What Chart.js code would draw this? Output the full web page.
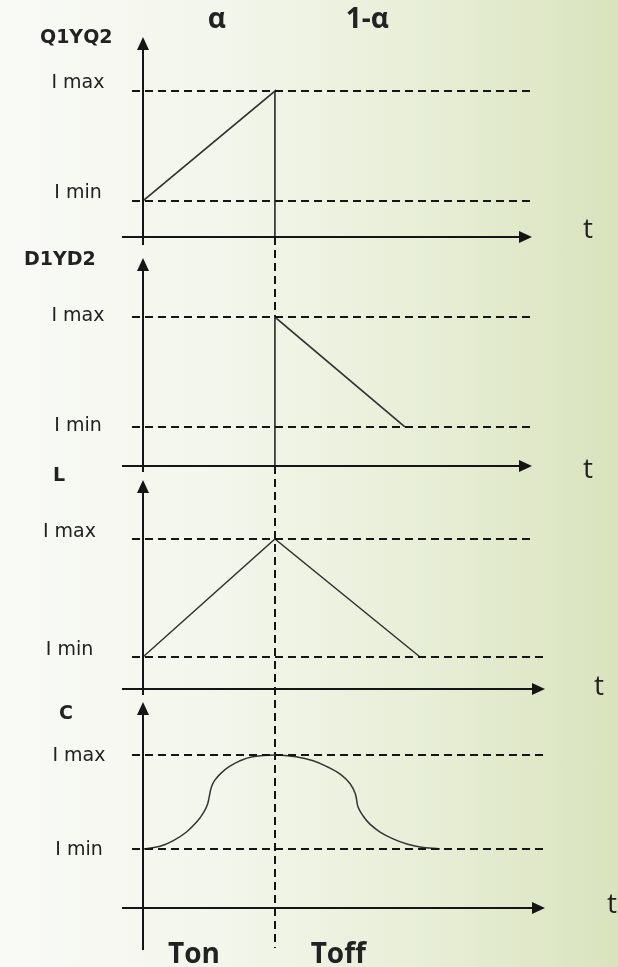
<!DOCTYPE html>
<html>
<head>
<meta charset="utf-8">
<title>Corrientes en el convertidor</title>
<script src="https://cdn.jsdelivr.net/npm/chart.js@4.4.1/dist/chart.umd.min.js"></script>
<style>
  html, body { margin: 0; padding: 0; }
  body {
    width: 618px; height: 967px; overflow: hidden;
    background: linear-gradient(to right, #f9faf6 0%, #f3f6ec 35%, #e7eed6 70%, #d9e3bd 100%);
  }
  canvas { display: block; }
</style>
</head>
<body>
<canvas id="chart" width="618" height="967"></canvas>
<script>
// Panels, top to bottom
const panelNames = ['Q1YQ2', 'D1YD2', 'L', 'C'];

// Current levels of each panel, as a share of Imax
const iMax = [1, 1, 1, 1];
const iMin = [0.247, 0.262, 0.213, 0.386];

// Time is measured in units of Ton (the switch opens at t = 1)
const TON = 1;

// Switch Q1 / Q2 current
const qTime = [0, 1, 1];
const qCurrent = [0.247, 1, 0];

// Diode D1 / D2 current
const dTime = [1, 1, 1.985];
const dCurrent = [0, 1, 0.262];

// Inductor current
const lTime = [0, 1, 2.1];
const lCurrent = [0.213, 1, 0.213];

// Capacitor current
const cTime = [0, 0.13, 0.23, 0.33, 0.41, 0.46, 0.49, 0.505, 0.52, 0.545, 0.59, 0.65, 0.73, 0.83, 1,
               1.16, 1.29, 1.40, 1.50, 1.57, 1.61, 1.63, 1.67, 1.72, 1.80, 1.90, 2.00, 2.10, 2.25];
const cCurrent = [0.386, 0.403, 0.440, 0.497, 0.565, 0.625, 0.680, 0.740, 0.795, 0.836, 0.880, 0.922, 0.960, 0.989, 1,
                  0.989, 0.963, 0.922, 0.872, 0.812, 0.745, 0.660, 0.600, 0.548, 0.495, 0.450, 0.418, 0.398, 0.386];

// Labels placed along the time axis
const phaseLabels = ['α', '1-α'];
const phaseAt = [0.56, 1.70];
const intervalLabels = ['Ton', 'Toff'];
const intervalAt = [0.386, 1.48];

// Geometry of the figure (scale ranges and decorations)
const geo = {
  xMin: -0.174, xMax: 3.6,
  panelHeight: [250, 224, 224, 269],
  yMin: [-0.089, -0.054, -0.06, -0.386],
  yMax: [1.623, 1.450, 1.433, 1.373],
  arrowTop: [1.370, 1.396, 1.393, 1.346],
  axisBottom: [-0.055, -0.04, -0.04, -0.275],
  guideBottom: -0.261,
  tStart: -0.159,
  tEnd: [2.947, 2.947, 3.045, 3.045],
  levelStart: -0.083,
  levelEndMax: [2.947, 2.947, 2.947, 3.06],
  levelEndMin: [2.947, 2.947, 3.06, 3.06],
  labelPad: [15.5, 15.5, 24, 14.5],
  labelShift: [-8, -1, -7, 1.5],
  nameX: [40, 24, 53, 59],
  nameDy: [1, 2, -4, 12],
  tDx: [56, 56, 54, 67],
  tDy: [-7, 4, -2, -3]
};

const INK = '#151515';
const TEXT = '#222222';

function pts(xs, ys) { return xs.map((x, i) => ({ x: x, y: ys[i] })); }

const scales = {
  x: { type: 'linear', min: geo.xMin, max: geo.xMax, display: false }
};
panelNames.forEach((name, k) => {
  scales['y' + k] = {
    type: 'linear',
    position: 'left',
    stack: 'panels',
    stackWeight: geo.panelHeight[k],
    weight: panelNames.length - k,
    min: geo.yMin[k],
    max: geo.yMax[k],
    afterFit: s => { s.width = 120; s.paddingTop = 0; s.paddingBottom = 0; },
    afterBuildTicks: s => { s.ticks = [{ value: iMin[k] }, { value: iMax[k] }]; },
    grid: { display: false, drawTicks: false },
    border: { display: false },
    ticks: {
      autoSkip: false,
      crossAlign: 'center',
      padding: geo.labelPad[k],
      labelOffset: geo.labelShift[k],
      color: TEXT,
      font: { family: 'DejaVu Sans', size: 19 },
      callback: v => (v === iMax[k] ? 'I max' : 'I min')
    }
  };
});

const dashed = { borderColor: INK, borderWidth: 2, borderDash: [8, 5], pointRadius: 0, fill: false };
const trace = { borderColor: '#333333', borderWidth: 1.5, pointRadius: 0, fill: false, tension: 0 };

const datasets = [];
panelNames.forEach((name, k) => {
  datasets.push(Object.assign({}, dashed, {
    label: name + ' Imax', yAxisID: 'y' + k,
    data: [{ x: geo.levelStart, y: iMax[k] }, { x: geo.levelEndMax[k], y: iMax[k] }]
  }));
  datasets.push(Object.assign({}, dashed, {
    label: name + ' Imin', yAxisID: 'y' + k,
    data: [{ x: geo.levelStart, y: iMin[k] }, { x: geo.levelEndMin[k], y: iMin[k] }]
  }));
});
datasets.push(Object.assign({}, trace, { label: 'Q1YQ2', yAxisID: 'y0', data: pts(qTime, qCurrent), borderWidth: 1.7 }));
datasets.push(Object.assign({}, trace, { label: 'D1YD2', yAxisID: 'y1', data: pts(dTime, dCurrent), borderWidth: 1.7 }));
datasets.push(Object.assign({}, trace, { label: 'L', yAxisID: 'y2', data: pts(lTime, lCurrent) }));
datasets.push(Object.assign({}, trace, { label: 'C', yAxisID: 'y3', data: pts(cTime, cCurrent), tension: 0.4 }));

function arrowHead(ctx, tx, ty, dir) {
  const len = 13, half = 6;
  ctx.beginPath();
  if (dir === 'up') {
    ctx.moveTo(tx, ty);
    ctx.lineTo(tx - half, ty + len);
    ctx.lineTo(tx + half, ty + len);
  } else {
    ctx.moveTo(tx, ty);
    ctx.lineTo(tx - len, ty - half);
    ctx.lineTo(tx - len, ty + half);
  }
  ctx.closePath();
  ctx.fill();
}

const sketchAxes = {
  id: 'sketchAxes',
  beforeDatasetsDraw(chart) {
    // dashed guide at the switching instant
    const ctx = chart.ctx;
    const gx = Math.round(chart.scales.x.getPixelForValue(TON));
    ctx.save();
    ctx.strokeStyle = INK;
    ctx.lineWidth = 2;
    ctx.setLineDash([8, 5]);
    ctx.beginPath();
    ctx.moveTo(gx, chart.scales.y0.getPixelForValue(0));
    ctx.lineTo(gx, chart.scales.y1.getPixelForValue(iMax[1]));
    ctx.moveTo(gx, chart.scales.y1.getPixelForValue(0));
    ctx.lineTo(gx, chart.scales.y3.getPixelForValue(geo.guideBottom));
    ctx.stroke();
    ctx.restore();
  },
  afterDatasetsDraw(chart) {
    const ctx = chart.ctx;
    const xs = chart.scales.x;
    const x0 = Math.round(xs.getPixelForValue(0));
    ctx.save();
    ctx.lineWidth = 2;
    panelNames.forEach((name, k) => {
      const ys = chart.scales['y' + k];
      ctx.strokeStyle = INK;
      ctx.fillStyle = INK;
      // current axis with arrow
      const top = Math.round(ys.getPixelForValue(geo.arrowTop[k]));
      const bot = Math.round(ys.getPixelForValue(geo.axisBottom[k]));
      ctx.beginPath();
      ctx.moveTo(x0, bot);
      ctx.lineTo(x0, top + 8);
      ctx.stroke();
      arrowHead(ctx, x0, top, 'up');
      // time axis with arrow
      const y0 = Math.round(ys.getPixelForValue(0));
      const xa = xs.getPixelForValue(geo.tStart);
      const xb = Math.round(xs.getPixelForValue(geo.tEnd[k]));
      ctx.beginPath();
      ctx.moveTo(xa, y0);
      ctx.lineTo(xb - 8, y0);
      ctx.stroke();
      arrowHead(ctx, xb, y0, 'right');

      // axis and panel names
      ctx.fillStyle = TEXT;
      ctx.textBaseline = 'middle';
      ctx.textAlign = 'center';
      ctx.font = '28px "Open Sans"';
      ctx.fillText('t', xb + geo.tDx[k], y0 + geo.tDy[k]);
      ctx.textAlign = 'left';
      ctx.font = 'bold 19px "DejaVu Sans"';
      ctx.fillText(name, geo.nameX[k], top + geo.nameDy[k]);
    });

    ctx.fillStyle = TEXT;
    ctx.font = 'bold 28px "Open Sans"';
    ctx.textAlign = 'center';
    ctx.textBaseline = 'middle';
    phaseLabels.forEach((s, i) => ctx.fillText(s, xs.getPixelForValue(phaseAt[i]), 20));
    ctx.textBaseline = 'alphabetic';
    intervalLabels.forEach((s, i) => ctx.fillText(s, xs.getPixelForValue(intervalAt[i]), 963));
    ctx.restore();
  }
};

new Chart(document.getElementById('chart'), {
  type: 'line',
  data: { datasets: datasets },
  options: {
    responsive: false,
    animation: false,
    devicePixelRatio: 1,
    layout: { padding: 0 },
    plugins: { legend: { display: false }, tooltip: { enabled: false }, title: { display: false } },
    scales: scales
  },
  plugins: [sketchAxes]
});
</script>
</body>
</html>
